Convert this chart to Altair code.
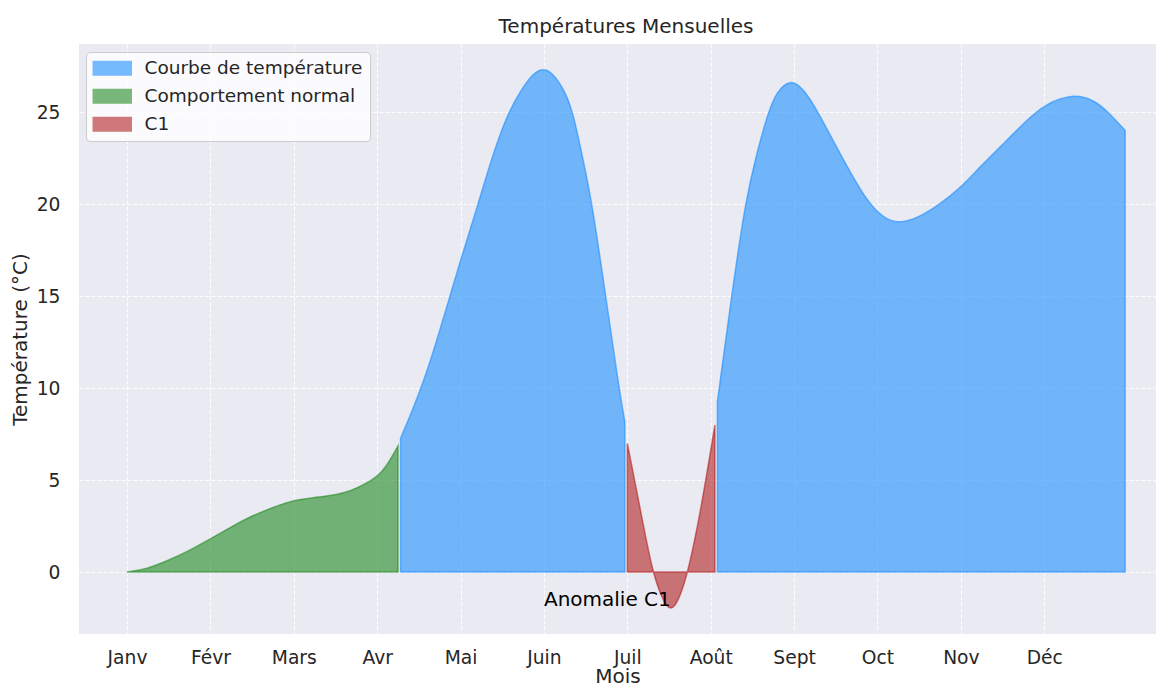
import altair as alt
import pandas as pd

# ---- data ----
months = ["Janv", "Févr", "Mars", "Avr", "Mai", "Juin", "Juil", "Août", "Sept", "Oct", "Nov", "Déc"]
month_pos = list(range(12))
y_ticks = [0, 5, 10, 15, 20, 25]

series_names = ["Courbe de température", "Comportement normal", "C1"]
series_colors = ["#1E90FF", "#228B22", "#B22222"]

normal_x = [0, 0.24, 0.48, 0.72, 1.0, 1.27, 1.47, 1.75, 2.0, 2.27, 2.5, 2.67, 2.87, 3.0, 3.11, 3.25]
normal_y = [0, 0.16, 0.6, 1.1, 1.8, 2.5, 3.0, 3.51, 3.91, 4.06, 4.2, 4.37, 4.82, 5.18, 5.72, 6.85]

temp1_x = [3.28, 3.39, 3.55, 3.72, 3.87, 3.99, 4.21, 4.39, 4.57, 4.75, 4.87, 4.99, 5.11, 5.23,
           5.34, 5.47, 5.58, 5.74, 5.90, 5.97]
temp1_y = [7.27, 8.44, 10.25, 12.66, 14.96, 16.8, 20.0, 22.75, 25.0, 26.38, 27.1, 27.4, 27.1, 26.3,
           25.2, 22.4, 20.0, 15.0, 10.0, 8.17]

anomaly_x = [6.0, 6.15, 6.30, 6.41, 6.47, 6.52, 6.57, 6.63, 6.73, 6.89, 7.05]
anomaly_y = [6.99, 3.55, 0.0, -1.34, -1.85, -2.0, -1.85, -1.34, 0.0, 3.55, 7.99]

temp2_x = [7.08, 7.25, 7.41, 7.55, 7.69, 7.79, 7.95, 8.11, 8.29, 8.59, 8.89, 9.11, 9.27, 9.51,
           9.75, 10.0, 10.23, 10.47, 10.75, 11.01, 11.37, 11.59, 11.75, 11.97]
temp2_y = [9.26, 15.0, 20.0, 22.75, 25.0, 26.1, 26.8, 26.3, 25.0, 22.4, 20.0, 19.13, 18.95, 19.3,
           20.0, 20.9, 22.03, 23.1, 24.38, 25.47, 26.0, 25.65, 25.1, 24.0]

annot_text = ["Anomalie C1"]
annot_x = [5.0]
annot_y = [-1.5]

chart_title = ["Températures Mensuelles"]

# ---- build table ----
rows = []
for seg, (name, xs, ys) in enumerate([
    (series_names[1], normal_x, normal_y),
    (series_names[0], temp1_x, temp1_y),
    (series_names[2], anomaly_x, anomaly_y),
    (series_names[0], temp2_x, temp2_y),
]):
    for xv, yv in zip(xs, ys):
        rows.append({"x": xv, "y": yv, "y0": 0.0, "series": name, "seg": seg})
df = pd.DataFrame(rows)
annot_df = pd.DataFrame({"x": annot_x, "y": annot_y, "t": annot_text})
title_df = pd.DataFrame({"t": chart_title})

FONT = "DejaVu Sans"
TXT = "#262626"

x_scale = alt.Scale(domain=[-0.576, 12.34], nice=False, zero=False)
y_scale = alt.Scale(domain=[-3.37, 28.70], nice=False, zero=False)

label_expr = "[" + ",".join("'" + m + "'" for m in months) + "][datum.value]"

x_axis = alt.Axis(values=month_pos, labelExpr=label_expr, title="Mois", labelPadding=14,
                  titlePadding=0, labelFlush=False, labelOverlap=False)
y_axis = alt.Axis(values=y_ticks, title="Température (°C)", labelPadding=19, titlePadding=6)

legend = alt.Legend(
    title=None, orient="none", legendX=7, legendY=8,
    symbolType="M-2.71,-0.95L2.71,-0.95L2.71,0.95L-2.71,0.95Z",
    symbolSize=196, symbolOffset=10, labelOffset=23, rowPadding=8, padding=7,
    fillColor="rgba(255,255,255,0.8)", strokeColor="#CCCCCC", cornerRadius=4,
    labelFont=FONT, labelFontSize=18.5, labelColor=TXT, labelLimit=0,
    symbolStrokeWidth=1.5, symbolOpacity=0.6,
)

color_scale = alt.Scale(domain=series_names, range=series_colors)

areas = alt.Chart(df).mark_area(
    interpolate="basis", fillOpacity=0.6, strokeOpacity=0.6, strokeWidth=1.5
).encode(
    x=alt.X("x:Q", scale=x_scale, axis=x_axis),
    y=alt.Y("y:Q", scale=y_scale, axis=y_axis, stack=None),
    y2=alt.Y2("y0:Q"),
    color=alt.Color("series:N", scale=color_scale, legend=legend),
    stroke=alt.Stroke("series:N", scale=color_scale, legend=legend),
    detail="seg:N",
)

annot = alt.Chart(annot_df).mark_text(
    align="left", baseline="middle", font=FONT, fontSize=20, color="black"
).encode(
    x=alt.X("x:Q", scale=x_scale),
    y=alt.Y("y:Q", scale=y_scale),
    text="t:N",
)

title_mark = alt.Chart(title_df).mark_text(
    align="center", baseline="alphabetic", font=FONT, fontSize=20, color=TXT
).encode(
    x=alt.value(547),
    y=alt.value(-11),
    text="t:N",
)

chart = alt.layer(areas, annot, title_mark).properties(
    width=1077, height=590,
    padding={"left": 71, "top": 36, "right": 0, "bottom": 49},
    autosize=alt.AutoSizeParams(type="none"),
    background="white",
).configure_view(
    fill="#EAEAF2", stroke=None
).configure_axis(
    labelFont=FONT, labelFontSize=18.7, labelColor=TXT,
    titleFont=FONT, titleFontSize=20, titleFontWeight="normal", titleColor=TXT,
    domain=False, ticks=False, grid=True, gridColor="white", gridDash=[4, 2],
    gridWidth=1, gridOpacity=0.9,
)

chart.save("out.html", embed_options={"renderer": "svg", "actions": False})
